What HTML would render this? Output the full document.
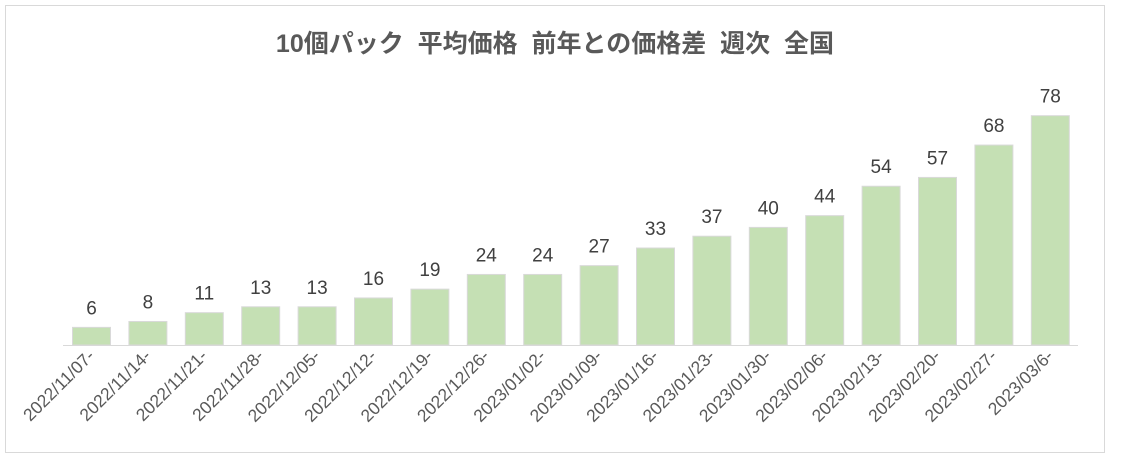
<!DOCTYPE html>
<html><head><meta charset="utf-8"><style>
body{margin:0;background:#fff;}
svg{display:block;font-family:"Liberation Sans","Noto Sans CJK JP",sans-serif;}
</style></head><body>
<svg width="1131" height="466" viewBox="0 0 1131 466">
<rect x="5.5" y="5.5" width="1099" height="447" fill="#fff" stroke="#d9d9d9"/>
<text x="555" y="52" text-anchor="middle" font-size="25" font-weight="bold" fill="#595959">10個パック&#160;&#160;平均価格&#160;&#160;前年との価格差&#160;&#160;週次&#160;&#160;全国</text>
<line x1="63" y1="345.5" x2="1078" y2="345.5" stroke="#d9d9d9"/>
<g id="bars"></g>
</svg>
<script>
var v=[6,8,11,13,13,16,19,24,24,27,33,37,40,44,54,57,68,78];
var l=["2022/11/07-","2022/11/14-","2022/11/21-","2022/11/28-","2022/12/05-","2022/12/12-","2022/12/19-","2022/12/26-","2023/01/02-","2023/01/09-","2023/01/16-","2023/01/23-","2023/01/30-","2023/02/06-","2023/02/13-","2023/02/20-","2023/02/27-","2023/03/6-"];
var s="";
for(var i=0;i<18;i++){var c=91.5+i*56.4,h=v[i]*2.94,t=345-h;
s+='<rect x="'+(c-19)+'" y="'+t+'" width="38" height="'+h+'" fill="#c5e0b4" stroke="#d9d9d9" stroke-width="1"/>';
s+='<text x="'+c+'" y="'+(t-13)+'" text-anchor="middle" font-size="19" fill="#404040">'+v[i]+'</text>';
s+='<text transform="translate('+(c+4)+',357) rotate(-45)" text-anchor="end" font-size="17.5" fill="#595959">'+l[i]+'</text>';}
document.getElementById("bars").innerHTML=s;
</script>
</body></html>
